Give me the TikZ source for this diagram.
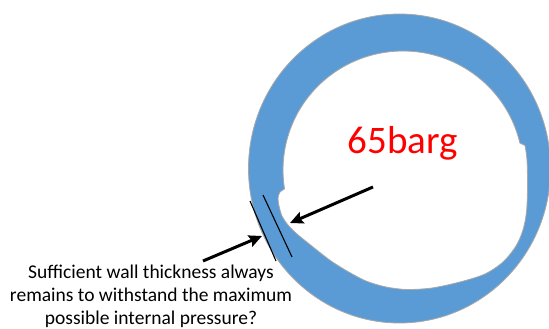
\documentclass[tikz,border=0pt]{standalone}
\usepackage{fontspec}
\setmainfont{Carlito}
\usetikzlibrary{arrows.meta}
\definecolor{pipeblue}{HTML}{5B9BD5}
\definecolor{pipeedge}{HTML}{A8A8A8}
\tikzset{
  pointer/.style={line width=3pt, -{Stealth[length=13pt,width=12pt,inset=2pt]}},
  gauge/.style={line width=1.1pt, black},
  label/.style={inner sep=0pt, font=\fontsize{19.5}{23.2}\selectfont, align=center},
  pressure/.style={inner sep=0pt, text=red, font=\fontsize{39}{44}\selectfont}
}
\begin{document}
\begin{tikzpicture}[x=1pt, y=-1pt]
\useasboundingbox (0,0) rectangle (549,329);
\clip (0,0) rectangle (549,329);
\fill[white] (0,0) rectangle (549,329);

% pipe wall: outer ellipse minus the corroded bore
\filldraw[pipeblue, draw=pipeedge, line width=0.8pt, even odd rule]
  (399.5,168.5) ellipse [x radius=151pt, y radius=154.5pt]
  (284.6,189)
  -- plot[domain=170.8:346.9, samples=90, variable=\t]
       ({403+120*cos(\t)},{170+119*sin(\t)})
  -- plot[smooth, tension=0.5] coordinates {
       (525,145.5) (527,160) (527.5,188) (526.5,212) (523,230) (516,246)
       (503,262) (485,274) (460,282) (432,288) (407,289.5) (386,287)
       (366,281) (347,271) (331,261) (318,251)}
  -- plot[smooth, tension=0.5] coordinates {
       (318,251) (308,243) (297,234) (288,225) (282,216) (279,206)
       (278,198) (280,192) (284.6,189)}
  -- cycle;

% gauge lines across the thinned wall
\coordinate (g1a) at (250,201);
\coordinate (g1b) at (276,261);
\coordinate (g2a) at (263,195);
\coordinate (g2b) at (292,257);
\draw[gauge] (g1a) -- (g1b);
\draw[gauge] (g2a) -- (g2b);

% pressure label and arrows
\node[pressure, anchor=base] (p) at (403,153) {65barg};
\coordinate (pin) at (373,187);
\coordinate (pinTip) at (290,223);
\draw[pointer] (pin) -- (pinTip);

\node[label, anchor=north] (q) at (151,264.5)
  {Sufficient wall thickness always\\remains to withstand the maximum\\possible internal pressure?};
\coordinate (qout) at (203,261);
\coordinate (qoutTip) at (262,236);
\draw[pointer] (qout) -- (qoutTip);
\end{tikzpicture}
\end{document}
